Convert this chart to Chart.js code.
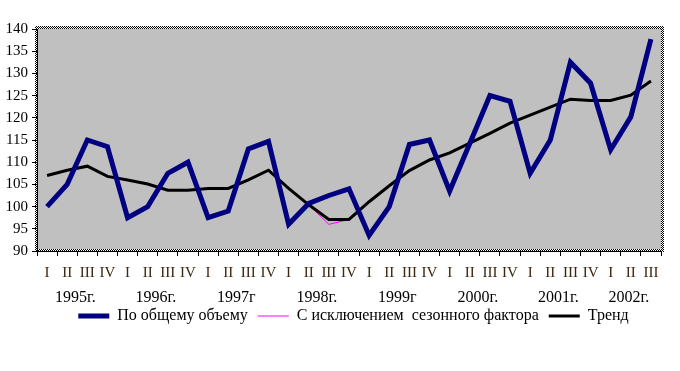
<!DOCTYPE html>
<html>
<head>
<meta charset="utf-8">
<script src="https://cdn.jsdelivr.net/npm/chart.js@4/dist/chart.umd.min.js"></script>
<style>
  html, body { margin: 0; padding: 0; background: #fff; }
  #wrap { width: 680px; height: 371px; }
</style>
</head>
<body>
<div id="wrap"><canvas id="grafico"></canvas></div>
<script>
// quarters (roman numerals) and the years they belong to
const kvartaly = ['I','II','III','IV','I','II','III','IV','I','II','III','IV','I','II','III','IV',
                  'I','II','III','IV','I','II','III','IV','I','II','III','IV','I','II','III'];
const gody = ['1995г.', '1996г.', '1997г', '1998г.', '1999г', '2000г.', '2001г.', '2002г.'];
const kvartalovVGodu = [4, 4, 4, 4, 4, 4, 4, 3];

// series
const obshiyObem = [100, 105, 115, 113.5, 97.5, 100, 107.5, 110, 97.5, 99, 113, 114.7, 96, 100.7, 102.5, 104,
                    93.5, 100, 114, 115, 103.5, 114.2, 125, 123.7, 107.5, 115, 132.5, 127.8, 112.8, 120.2, 137.7];
const bezSezona = [107, 108.2, 109.1, 106.8, 106, 105.1, 103.7, 103.7, 104.1, 104.1, 106, 108.2, 104.1, 100.4, 96, 97.1,
                   101.1, 104.7, 108.1, 110.5, 112.1, 114.3, 116.5, 118.8, 120.6, 122.4, 124.2, 123.9, 123.9, 125.1, 128.3];
const trend = [107, 108.2, 109.1, 106.8, 106, 105.1, 103.7, 103.7, 104.1, 104.1, 106, 108.2, 104.1, 100.4, 97.1, 97.1,
               101.1, 104.7, 108.1, 110.5, 112.1, 114.3, 116.5, 118.8, 120.6, 122.4, 124.2, 123.9, 123.9, 125.1, 128.3];

const shrift = "'Liberation Serif', 'Times New Roman', serif";

// checker pattern for the plot frame
function shahmatka(ctx) {
    const c = document.createElement('canvas');
    c.width = 2; c.height = 2;
    const g = c.getContext('2d');
    g.fillStyle = '#fff'; g.fillRect(0, 0, 2, 2);
    g.fillStyle = '#000'; g.fillRect(0, 0, 1, 1); g.fillRect(1, 1, 1, 1);
    return ctx.createPattern(c, 'repeat');
}

const fonPlugin = {
    id: 'fon',
    beforeDraw(chart) {
        const {ctx, chartArea: a} = chart;
        ctx.save();
        ctx.fillStyle = '#c0c0c0';
        ctx.fillRect(a.left, a.top, a.right - a.left, a.bottom - a.top);
        ctx.strokeStyle = shahmatka(ctx);
        ctx.lineWidth = 3;
        ctx.strokeRect(a.left - 0.5, a.top - 1.5, a.right - a.left + 2, a.bottom - a.top + 1);
        ctx.restore();
    }
};

// year captions under the quarter labels
const godyPlugin = {
    id: 'gody',
    afterDraw(chart) {
        const {ctx, scales: {x}} = chart;
        ctx.save();
        ctx.font = '16px ' + shrift;
        ctx.fillStyle = '#000';
        ctx.textAlign = 'center';
        ctx.textBaseline = 'middle';
        let start = 0;
        gody.forEach((g, i) => {
            const end = start + kvartalovVGodu[i] - 1;
            const px = (x.getPixelForValue(start) + x.getPixelForValue(end)) / 2;
            ctx.fillText(g, px - 2, chart.chartArea.bottom + 47);
            start = end + 1;
        });
        ctx.restore();
    }
};

// move the legend a bit to the right, as in the picture
const legendaSdvig = {
    id: 'legendaSdvig',
    afterLayout(chart) {
        chart.legend.left += 23;
        chart.legend.right += 23;
    }
};

const ctx = document.getElementById('grafico').getContext('2d');

new Chart(ctx, {
    type: 'line',
    data: {
        labels: kvartaly,
        datasets: [
            {
                label: 'По общему объему',
                data: obshiyObem,
                borderColor: '#000080',
                backgroundColor: '#000080',
                borderWidth: 5,
                order: 0
            },
            {
                label: 'С исключением  сезонного фактора',
                data: bezSezona,
                borderColor: '#ff00ff',
                backgroundColor: '#ff00ff',
                borderWidth: 1,
                order: 2
            },
            {
                label: 'Тренд',
                data: trend,
                borderColor: '#000000',
                backgroundColor: '#000000',
                borderWidth: 3,
                order: 1
            }
        ]
    },
    options: {
        responsive: true,
        maintainAspectRatio: false,
        animation: false,
        elements: {
            point: { radius: 0 },
            line: { tension: 0 }
        },
        layout: {
            padding: { left: 0, right: 19, top: 29, bottom: 37 }
        },
        scales: {
            x: {
                offset: true,
                grid: {
                    offset: true,
                    drawOnChartArea: false,
                    tickLength: 5,
                    color: '#000'
                },
                border: { color: '#000', width: 1 },
                ticks: {
                    autoSkip: false,
                    maxRotation: 0,
                    padding: 8,
                    color: '#3a2510',
                    font: { family: shrift, size: 15 }
                },
                afterFit(scale) { scale.height = 47; }
            },
            y: {
                min: 90,
                max: 140,
                grid: {
                    drawOnChartArea: false,
                    tickLength: 5,
                    color: '#000'
                },
                border: { color: '#000', width: 1 },
                ticks: {
                    stepSize: 5,
                    padding: 4,
                    color: '#000',
                    font: { family: shrift, size: 15 }
                },
                afterFit(scale) { scale.width = 37; }
            }
        },
        plugins: {
            legend: {
                position: 'bottom',
                labels: {
                    usePointStyle: true,
                    pointStyle: 'line',
                    pointStyleWidth: 31,
                    padding: 10,
                    color: '#000',
                    font: { family: shrift, size: 16 },
                    sort: (a, b) => a.datasetIndex - b.datasetIndex
                }
            },
            tooltip: { enabled: false }
        }
    },
    plugins: [fonPlugin, godyPlugin, legendaSdvig]
});
</script>
</body>
</html>
